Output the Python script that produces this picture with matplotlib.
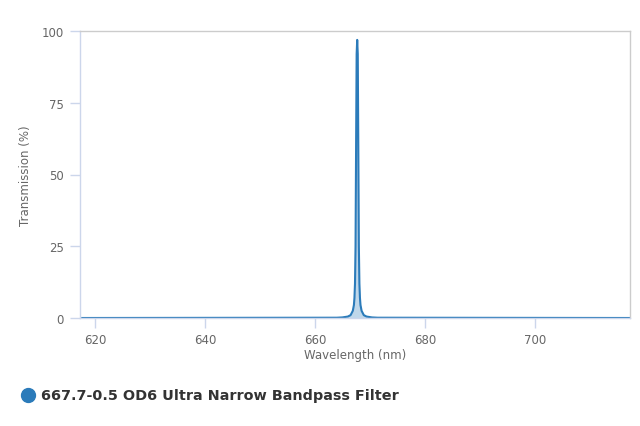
import matplotlib
matplotlib.use("Agg")
import matplotlib.pyplot as plt
from matplotlib.lines import Line2D

wavelength = [617.7, 664.0, 665.0, 666.0, 666.5, 666.9, 667.1, 667.2, 667.3, 667.4,
              667.5, 667.6, 667.7, 667.8, 667.9, 668.0, 668.1, 668.2, 668.3, 668.5,
              668.9, 669.4, 670.4, 671.4, 717.7]
transmission = [0.0, 0.1, 0.2, 0.5, 1.0, 2.5, 4.5, 7.0, 12.0, 25.0,
                60.0, 92.0, 96.9, 92.0, 60.0, 25.0, 12.0, 7.0, 4.5, 2.5,
                1.0, 0.5, 0.2, 0.1, 0.0]
series_name = "667.7-0.5 OD6 Ultra Narrow Bandpass Filter"
x_ticks = [620, 640, 660, 680, 700]
y_ticks = [0, 25, 50, 75, 100]

color = "#2b7bba"
axis_col = "#ccd6eb"
label_col = "#666666"

fig = plt.figure(figsize=(6.4, 4.27), dpi=100)
ax = fig.add_axes([80/640, (427-319)/427, 550/640, 287/427])

ax.fill_between(wavelength, transmission, 0, color=color, alpha=0.3, linewidth=0)
ax.plot(wavelength, transmission, color=color, linewidth=1.5, solid_joinstyle="round")

ax.set_xlim(617.3, 717.3)
ax.set_ylim(0, 100)
ax.set_xticks(x_ticks)
ax.set_yticks(y_ticks)

for s in ["top", "right"]:
    ax.spines[s].set_color("#cccccc")
    ax.spines[s].set_linewidth(1.0)
for s in ["left", "bottom"]:
    ax.spines[s].set_color(axis_col)
    ax.spines[s].set_linewidth(1.0)

ax.tick_params(axis="x", length=7, width=1, color=axis_col, pad=3.5,
               labelsize=8.5, labelcolor=label_col)
ax.tick_params(axis="y", length=7.2, width=1, color=axis_col, pad=4.3,
               labelsize=8.5, labelcolor=label_col)

ax.set_xlabel("Wavelength (nm)", fontsize=8.5, color=label_col, labelpad=2)
ax.set_ylabel("Transmission (%)", fontsize=8.5, color=label_col, labelpad=7)

# legend
fig.lines.append(Line2D([28/640], [(427-396)/427], marker="o", markersize=10,
                        color=color, linestyle="none", transform=fig.transFigure))
fig.text(41/640, (427-396)/427, series_name, fontsize=10.4, fontweight="bold",
         color="#333333", va="center", ha="left")

fig.savefig("out.png", dpi=100)
